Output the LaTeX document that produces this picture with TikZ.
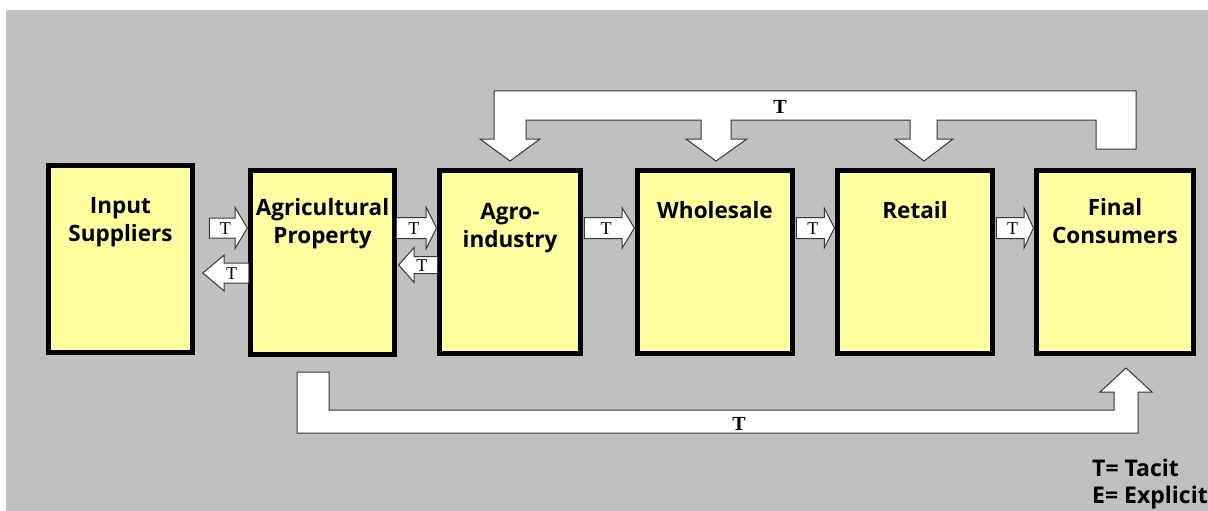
\documentclass[tikz,border=0pt]{standalone}
\usepackage{fontspec}
\setmainfont{Open Sans}
\newfontfamily\tfont{Liberation Serif}
\usetikzlibrary{shapes.arrows}
\definecolor{bggray}{RGB}{192,192,192}
\definecolor{boxyellow}{RGB}{255,255,160}
\definecolor{edgegray}{RGB}{55,55,55}
\begin{document}
\begin{tikzpicture}[x=1pt,y=-1pt,
  stage/.style={draw=black, line width=5pt, fill=boxyellow, inner sep=0pt},
  stagetext/.style={font=\fontsize{22.5}{28}\selectfont\bfseries, align=center, anchor=base, inner sep=0pt},
  flow/.style={single arrow, draw=edgegray, fill=white, line width=1pt, inner xsep=0pt,
    anchor=tip, text height=12pt, text depth=0pt, font=\tfont\fontsize{18}{18}\selectfont},
  band/.style={draw=edgegray, fill=white, line width=1pt, line join=miter},
  bandtext/.style={font=\tfont\bfseries\fontsize{20}{20}\selectfont, inner sep=0pt},
  legend/.style={font=\fontsize{23}{27}\selectfont\bfseries, anchor=base west, inner sep=0pt}
]
% canvas
\fill[white] (0,0) rectangle (1208,511);
\fill[bggray] (6,10) rectangle (1208,511);
\useasboundingbox (0,0) rectangle (1208,511);

% stages of the chain
\node[stage, minimum width=144pt, minimum height=187pt] (is) at (120.5,259) {};
\node[stage, minimum width=144pt, minimum height=184pt] (ap) at (322.5,262.5) {};
\node[stage, minimum width=141pt, minimum height=183pt] (ai) at (510,262) {};
\node[stage, minimum width=155pt, minimum height=183pt] (ws) at (715,262) {};
\node[stage, minimum width=155pt, minimum height=183pt] (rt) at (915,262) {};
\node[stage, minimum width=157pt, minimum height=183pt] (fc) at (1115,262) {};

% labels (base anchor sits on the last line)
\node[stagetext] (is-t) at (is.north |- 0,241) {Input\\Suppliers};
\node[stagetext] (ap-t) at (ap.north |- 0,243) {Agricultural\\Property};
\node[stagetext] (ai-t) at (ai.north |- 0,247) {Agro-\\industry};
\node[stagetext] (ws-t) at (ws.north |- 0,218) {Wholesale};
\node[stagetext] (rt-t) at (rt.north |- 0,218) {Retail};
\node[stagetext] (fc-t) at (fc.north |- 0,243) {Final\\Consumers};

% short flows between neighbouring stages
\node[flow, minimum height=38pt, inner ysep=3.5pt, single arrow head extend=10.5pt,
  single arrow tip angle=118] (f1) at (ap.west |- 0,228) {T};
\node[flow, minimum height=46pt, inner ysep=3.5pt, single arrow head extend=8pt,
  single arrow tip angle=80, shape border rotate=180] (f2) at (202,273) {T};
\node[flow, minimum height=40pt, inner ysep=4pt, single arrow head extend=10pt,
  single arrow tip angle=127] (f3) at (ai.west |- 0,228) {T};
\node[flow, minimum height=39pt, inner ysep=2pt, single arrow head extend=9pt,
  single arrow tip angle=97, shape border rotate=180] (f4) at (398,265) {T};
\node[flow, minimum height=50pt, inner ysep=4pt, single arrow head extend=9.5pt,
  single arrow tip angle=117] (f5) at (ws.west |- 0,228) {T};
\node[flow, minimum height=38pt, inner ysep=4pt, single arrow head extend=9.5pt,
  single arrow tip angle=126] (f6) at (rt.west |- 0,228) {T};
\node[flow, minimum height=37pt, inner ysep=4pt, single arrow head extend=9.5pt,
  single arrow tip angle=130] (f7) at (fc.west |- 0,228) {T};

% feedback band from the consumers to agro-industry, wholesale and retail
\coordinate (tip-ai) at (ai.north |- 0,161);
\coordinate (tip-ws) at (716,161);
\coordinate (tip-rt) at (924,161);
\draw[band] (tip-ai) -- (540,139) -- (526,139) -- (526,120) -- (701,120) -- (701,139)
  -- (686,139) -- (tip-ws) -- (747,139) -- (731,139) -- (731,120) -- (910,120)
  -- (910,139) -- (895,139) -- (tip-rt) -- (953,139) -- (937,139) -- (937,120)
  -- (1096,120) -- (1096,149) -- (1136,149) -- (1136,91) -- (494,91) -- (494,139)
  -- (480,139) -- cycle;
\node[bandtext] (top-t) at (780,107) {T};

% direct band from the farm to the consumers
\coordinate (tip-fc) at (1126,368);
\draw[band] (297,372) -- (329,372) -- (329,410) -- (1114,410) -- (1114,392) -- (1100,392)
  -- (tip-fc) -- (1152,392) -- (1138,392) -- (1138,433) -- (297,433) -- cycle;
\node[bandtext] (bot-t) at (739,424) {T};

% key
\node[legend] (key-t) at (1092,476) {T= Tacit};
\node[legend] (key-e) at (1092,503) {E= Explicit};
\end{tikzpicture}
\end{document}
